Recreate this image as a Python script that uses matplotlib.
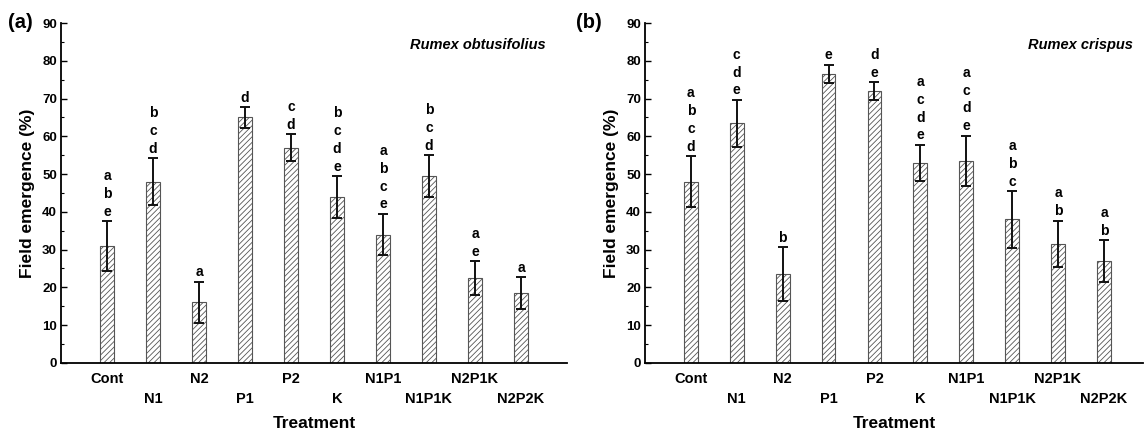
import matplotlib
matplotlib.use("Agg")
import matplotlib.pyplot as plt
from matplotlib.ticker import MultipleLocator

plt.rcParams['font.family'] = ['Liberation Sans', 'DejaVu Sans']
plt.rcParams['font.weight'] = 'bold'
plt.rcParams['hatch.linewidth'] = 0.6

treatments = ['Cont', 'N1', 'N2', 'P1', 'P2', 'K', 'N1P1', 'N1P1K', 'N2P1K', 'N2P2K']

# Rumex obtusifolius
obt_mean = [31.0, 48.0, 16.0, 65.0, 57.0, 44.0, 34.0, 49.5, 22.5, 18.5]
obt_err = [6.6, 6.3, 5.5, 2.8, 3.5, 5.5, 5.5, 5.6, 4.4, 4.3]
obt_letters = ['abe', 'bcd', 'a', 'd', 'cd', 'bcde', 'abce', 'bcd', 'ae', 'a']

# Rumex crispus
cri_mean = [48.0, 63.5, 23.5, 76.5, 72.0, 53.0, 53.5, 38.0, 31.5, 27.0]
cri_err = [6.8, 6.2, 7.1, 2.5, 2.3, 4.8, 6.7, 7.5, 6.2, 5.5]
cri_letters = ['abcd', 'cde', 'b', 'e', 'de', 'acde', 'acde', 'abc', 'ab', 'ab']

fig = plt.figure(figsize=(11.44, 4.3), dpi=100)
ax_a = fig.add_axes([0.0533, 0.156, 0.4423, 0.7905])
ax_b = fig.add_axes([0.5638, 0.156, 0.4353, 0.7905])


def draw_panel(ax, means, errs, letters, species, xmax, sp_x):
    x = list(range(1, len(treatments) + 1))
    ax.bar(x, means, width=0.3, color='white', edgecolor='#555555',
           hatch='//////', linewidth=0.8, zorder=2)
    ax.errorbar(x, means, yerr=errs, fmt='none', ecolor='#111111',
                elinewidth=1.4, capsize=3.6, capthick=1.4, zorder=3)
    for xi, m, e, lab in zip(x, means, errs, letters):
        n = len(lab)
        for i, ch in enumerate(lab):
            ax.annotate(ch, (xi, m + e), xytext=(0, 6.7 + 12.8 * (n - 1 - i)),
                        textcoords='offset points', ha='center', va='center',
                        fontsize=10, fontweight='bold')
    ax.set_xlim(0, xmax)
    ax.set_ylim(0, 90)
    ax.yaxis.set_major_locator(MultipleLocator(10))
    ax.yaxis.set_minor_locator(MultipleLocator(5))
    ax.tick_params(axis='y', direction='in', length=4, width=1, labelsize=9.5, pad=3)
    ax.tick_params(axis='y', which='minor', direction='in', length=2.5, width=0.8)
    ax.set_xticks(x)
    ax.set_xticklabels(treatments, fontsize=10.5, fontweight='bold')
    ax.tick_params(axis='x', length=0)
    for k, t in enumerate(ax.xaxis.get_major_ticks()):
        t.set_pad(6.5 if k % 2 == 0 else 21)
    ax.spines['top'].set_visible(False)
    ax.spines['right'].set_visible(False)
    ax.spines['left'].set_linewidth(1.3)
    ax.spines['bottom'].set_linewidth(1.3)
    ax.set_xlabel('Treatment', fontsize=12.5, fontweight='bold', labelpad=7)
    ax.set_ylabel('Field emergence (%)', fontsize=12.5, fontweight='bold', labelpad=5)
    ax.text(sp_x, 0.935, species, transform=ax.transAxes, ha='right', va='center',
            fontsize=10.5, fontweight='bold', fontstyle='italic')


draw_panel(ax_a, obt_mean, obt_err, obt_letters, 'Rumex obtusifolius', 11, 0.957)
draw_panel(ax_b, cri_mean, cri_err, cri_letters, 'Rumex crispus', 10.85, 0.98)

fig.text(0.018, 0.947, '(a)', fontsize=14.5, fontweight='bold', va='center', ha='center')
fig.text(0.515, 0.947, '(b)', fontsize=14.5, fontweight='bold', va='center', ha='center')

fig.savefig('out.png', dpi=100)
